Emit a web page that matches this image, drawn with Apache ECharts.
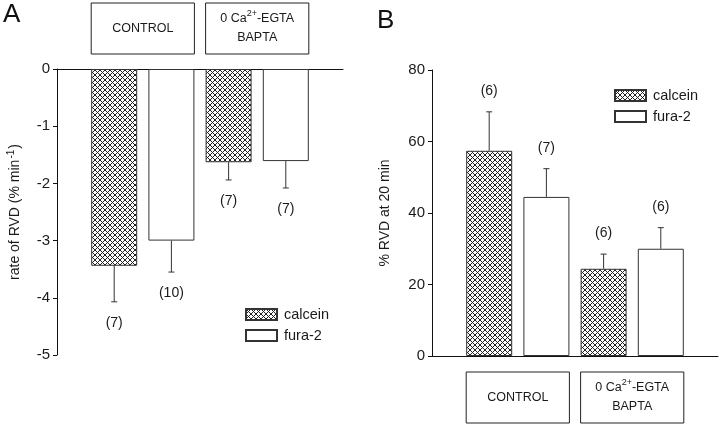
<!DOCTYPE html>
<html>
<head>
<meta charset="utf-8">
<script src="https://cdn.jsdelivr.net/npm/echarts@6/dist/echarts.min.js"></script>
<style>
html,body{margin:0;padding:0;background:#fff;}
#chart{width:720px;height:427px;}
</style>
</head>
<body>
<div id="chart"></div>
<script>
// ---------- data ----------
const groups = ['CONTROL', '0 Ca2+-EGTA BAPTA'];
const seriesNames = ['calcein', 'fura-2'];
// bar slots on the hidden positional axis (calcein, fura-2 per group)
const slotsCalcein = [1, 3];
const slotsFura = [2, 4];

// Panel A: rate of RVD (% min-1)
const aCalcein = [-3.44, -1.63];
const aCalceinErr = [-4.07, -1.94];
const aCalceinN = ['(7)', '(7)'];
const aFura = [-3.00, -1.61];
const aFuraErr = [-3.55, -2.08];
const aFuraN = ['(10)', '(7)'];
const aTicks = [-5, -4, -3, -2, -1, 0];

// Panel B: % RVD at 20 min
const bCalcein = [57.4, 24.4];
const bCalceinErr = [68.3, 28.5];
const bCalceinN = ['(6)', '(6)'];
const bFura = [44.5, 30.0];
const bFuraErr = [52.4, 35.9];
const bFuraN = ['(7)', '(6)'];
const bTicks = [0, 20, 40, 60, 80];

// ---------- styles ----------
const FONT = 'Liberation Sans, Arial, sans-serif';
const INK = '#1a1a1a';

function hatch() {
  const c = document.createElement('canvas');
  const s = 5;
  c.width = s; c.height = s;
  const g = c.getContext('2d');
  g.fillStyle = '#ffffff';
  g.fillRect(0, 0, s, s);
  g.strokeStyle = '#222';
  g.lineWidth = 1;
  g.beginPath();
  g.moveTo(-1, -1); g.lineTo(s + 1, s + 1);
  g.moveTo(-1, s + 1); g.lineTo(s + 1, -1);
  g.stroke();
  return c;
}
const hatchFill = { image: hatch(), repeat: 'repeat' };

const chart = echarts.init(document.getElementById('chart'), null, { renderer: 'canvas' });

function pairs(slots, vals) { return slots.map((s, i) => [s, vals[i]]); }
function errData(slots, vals, errs, ns) { return slots.map((s, i) => [s, vals[i], errs[i], ns[i]]); }

function barSeries(name, gi, slots, vals, fill) {
  return {
    type: 'bar', name: name, xAxisIndex: gi, yAxisIndex: gi,
    data: pairs(slots, vals), barWidth: 46, barGap: '-100%',
    itemStyle: { color: fill, borderColor: '#333', borderWidth: 1 },
    emphasis: { disabled: true }, silent: true, z: 2
  };
}
function errSeries(gi, slots, vals, errs, ns) {
  return {
    type: 'custom', xAxisIndex: gi, yAxisIndex: gi, silent: true, z: 3,
    data: errData(slots, vals, errs, ns),
    renderItem: function (params, api) {
      const x = api.value(0);
      const p0 = api.coord([x, api.value(1)]);
      const p1 = api.coord([x, api.value(2)]);
      const dir = p1[1] > p0[1] ? 1 : -1;
      const n = ns[params.dataIndex];
      return {
        type: 'group',
        children: [
          { type: 'line', shape: { x1: p0[0], y1: p0[1], x2: p1[0], y2: p1[1] }, style: { stroke: '#333', lineWidth: 1 } },
          { type: 'line', shape: { x1: p1[0] - 3, y1: p1[1], x2: p1[0] + 3, y2: p1[1] }, style: { stroke: '#333', lineWidth: 1 } },
          { type: 'text', x: p1[0], y: p1[1] + dir * 21,
            style: { text: n, fill: INK, font: '14px ' + FONT, align: 'center', verticalAlign: 'middle' } }
        ]
      };
    }
  };
}

const axisLabelStyle = { color: INK, fontSize: 15, fontFamily: FONT, margin: 7 };

const option = {
  animation: false,
  backgroundColor: '#fff',
  textStyle: { fontFamily: FONT },
  grid: [
    { left: 57, top: 69, width: 286, height: 286 },
    { left: 432, top: 70, width: 286, height: 286 }
  ],
  xAxis: [
    { gridIndex: 0, type: 'value', min: 0, max: 5, position: 'top',
      axisLine: { show: true, onZero: false, lineStyle: { color: '#111', width: 1 } },
      axisTick: { show: false }, axisLabel: { show: false }, splitLine: { show: false } },
    { gridIndex: 1, type: 'value', min: 0, max: 5, position: 'bottom',
      axisLine: { show: true, onZero: false, lineStyle: { color: '#111', width: 1 } },
      axisTick: { show: false }, axisLabel: { show: false }, splitLine: { show: false } }
  ],
  yAxis: [
    { gridIndex: 0, type: 'value', min: aTicks[0], max: aTicks[aTicks.length - 1], interval: 1,
      axisLine: { show: true, onZero: false, lineStyle: { color: '#111', width: 1 } },
      axisTick: { show: true, length: 4, lineStyle: { color: '#111' } },
      axisLabel: axisLabelStyle, splitLine: { show: false },
      name: '{t|rate of RVD (% min}{s|-1}{t|)}', nameLocation: 'middle', nameGap: 33,
      nameTextStyle: { rich: {
        t: { fontSize: 14, color: INK, fontFamily: FONT, lineHeight: 18 },
        s: { fontSize: 10, color: INK, fontFamily: FONT, lineHeight: 18, padding: [0, 1, 8, 1] } } } },
    { gridIndex: 1, type: 'value', min: bTicks[0], max: bTicks[bTicks.length - 1], interval: 20,
      axisLine: { show: true, onZero: false, lineStyle: { color: '#111', width: 1 } },
      axisTick: { show: true, length: 4, lineStyle: { color: '#111' } },
      axisLabel: axisLabelStyle, splitLine: { show: false },
      name: '% RVD at 20 min', nameLocation: 'middle', nameGap: 40,
      nameTextStyle: { fontSize: 14, color: INK, fontFamily: FONT } }
  ],
  legend: [
    { orient: 'vertical', left: 240, top: 302, itemWidth: 31, itemHeight: 11, itemGap: 6,
      icon: 'rect', data: seriesNames, selectedMode: false,
      textStyle: { fontSize: 14.5, color: INK, fontFamily: FONT, padding: [0, 0, 0, 2] } },
    { orient: 'vertical', left: 609, top: 83, itemWidth: 31, itemHeight: 11, itemGap: 6,
      icon: 'rect', data: seriesNames, selectedMode: false,
      textStyle: { fontSize: 14.5, color: INK, fontFamily: FONT, padding: [0, 0, 0, 2] } }
  ],
  series: [
    barSeries(seriesNames[0], 0, slotsCalcein, aCalcein, hatchFill),
    barSeries(seriesNames[1], 0, slotsFura, aFura, '#ffffff'),
    errSeries(0, slotsCalcein, aCalcein, aCalceinErr, aCalceinN),
    errSeries(0, slotsFura, aFura, aFuraErr, aFuraN),
    barSeries(seriesNames[0], 1, slotsCalcein, bCalcein, hatchFill),
    barSeries(seriesNames[1], 1, slotsFura, bFura, '#ffffff'),
    errSeries(1, slotsCalcein, bCalcein, bCalceinErr, bCalceinN),
    errSeries(1, slotsFura, bFura, bFuraErr, bFuraN)
  ]
};
chart.setOption(option);

// group boxes and panel letters, placed from the axis scale
function groupBoxes(gi, top, h) {
  const out = [];
  groups.forEach((g, i) => {
    const l = chart.convertToPixel({ xAxisIndex: gi }, slotsCalcein[i]) - 23;
    const r = chart.convertToPixel({ xAxisIndex: gi }, slotsFura[i]) + 23;
    const text = i === 0 ? '{n|CONTROL}' : '{n|0 Ca}{s|2+}{n|-EGTA}\n{n|BAPTA}';
    out.push({
      type: 'rect', shape: { x: l, y: top, width: r - l, height: h },
      style: { fill: '#fff', stroke: '#222', lineWidth: 1 }
    });
    out.push({
      type: 'text', x: (l + r) / 2, y: top + h / 2,
      style: {
        text: text, align: 'center', verticalAlign: 'middle', fill: INK,
        rich: {
          n: { fontSize: 12.5, fontFamily: FONT, fill: INK, lineHeight: 19 },
          s: { fontSize: 9, fontFamily: FONT, fill: INK, verticalAlign: 'top', lineHeight: 19 }
        }
      }
    });
  });
  return out;
}
const graphics = [].concat(
  groupBoxes(0, 3, 51),
  groupBoxes(1, 372, 51),
  [
    { type: 'text', left: 3, top: 2, style: { text: 'A', font: '26px ' + FONT, fill: '#111' } },
    { type: 'text', left: 377, top: 8, style: { text: 'B', font: '26px ' + FONT, fill: '#111' } }
  ]
);
chart.setOption({ graphic: graphics });
</script>
</body>
</html>
